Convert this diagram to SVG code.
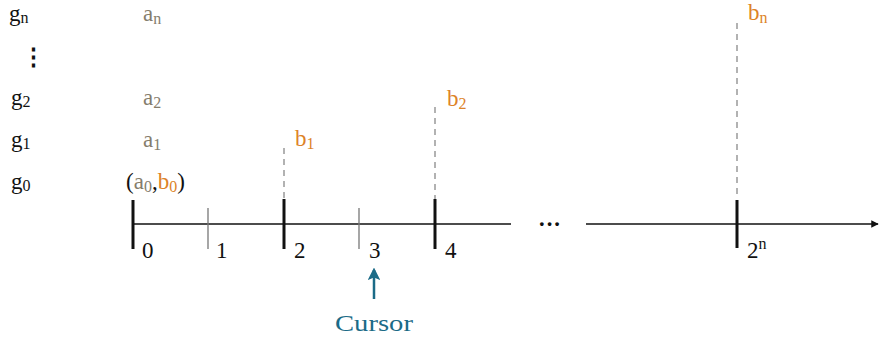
<svg xmlns="http://www.w3.org/2000/svg" width="879" height="338" viewBox="0 0 879 338">
<defs>
<style>
text{font-family:"Liberation Serif","DejaVu Serif",serif;font-size:23px;fill:#111}
.a{fill:#857d6c}
.b{fill:#dd8328}
.sub{font-size:16px}
.axis{stroke:#111;stroke-width:1.5;fill:none}
.major{stroke:#111;stroke-width:3}
.minor{stroke:#777;stroke-width:1.3}
.dash{stroke:#999;stroke-width:1.5;stroke-dasharray:6 5}
.cur{fill:#1b6b87}
</style>
<marker id="ah" viewBox="0 0 10 10" refX="9" refY="5" markerWidth="5" markerHeight="5" orient="auto"><path d="M0,0 L10,5 L0,10 z" fill="#111"/></marker>
<marker id="ch" viewBox="0 0 10 10" refX="8" refY="5" markerWidth="5" markerHeight="5" orient="auto"><path d="M0,0 L10,5 L0,10 L2,5 z" fill="#1b6b87"/></marker>
</defs>
<g id="levels">
<text x="9" y="21">g<tspan class="sub" dy="2">n</tspan></text>
<text x="22" y="64" font-weight="bold">⋮</text>
<text x="11" y="105">g<tspan class="sub" dy="2">2</tspan></text>
<text x="11" y="147">g<tspan class="sub" dy="2">1</tspan></text>
<text x="11" y="189">g<tspan class="sub" dy="2">0</tspan></text>
</g>
<g id="a-values">
<text class="a" x="143" y="21">a<tspan class="sub" dy="3">n</tspan></text>
<text class="a" x="143" y="105">a<tspan class="sub" dy="3">2</tspan></text>
<text class="a" x="143" y="147">a<tspan class="sub" dy="3">1</tspan></text>
<text x="126" y="189">(<tspan class="a">a</tspan><tspan class="a sub" dy="3">0</tspan><tspan dy="-3">,</tspan><tspan class="b">b</tspan><tspan class="b sub" dy="3">0</tspan><tspan dy="-3">)</tspan></text>
</g>
<g id="b-values">
<text class="b" x="295" y="146">b<tspan class="sub" dy="3">1</tspan></text>
<text class="b" x="447" y="106">b<tspan class="sub" dy="3">2</tspan></text>
<text class="b" x="748" y="20">b<tspan class="sub" dy="3">n</tspan></text>
</g>
<g id="connectors">
<line class="axis" x1="133" y1="224" x2="511" y2="224"/>
<line class="axis" x1="586" y1="224" x2="878" y2="224" marker-end="url(#ah)"/>
<line class="dash" x1="284" y1="148" x2="284" y2="199"/>
<line class="dash" x1="435" y1="107" x2="435" y2="199"/>
<line class="dash" x1="737" y1="23" x2="737" y2="199"/>
<line x1="374" y1="299" x2="374" y2="270" stroke="#1b6b87" stroke-width="2.5" marker-end="url(#ch)"/>
</g>
<g id="ticks">
<line class="major" x1="133" y1="200" x2="133" y2="249"/>
<line class="minor" x1="208" y1="208" x2="208" y2="249"/>
<line class="major" x1="284" y1="199" x2="284" y2="249"/>
<line class="minor" x1="359" y1="208" x2="359" y2="249"/>
<line class="major" x1="435" y1="199" x2="435" y2="249"/>
<line class="major" x1="737" y1="200" x2="737" y2="248"/>
</g>
<g id="labels">
<text x="142" y="258">0</text>
<text x="216" y="258">1</text>
<text x="294" y="258">2</text>
<text x="369" y="258">3</text>
<text x="445" y="258">4</text>
<text x="747" y="258">2<tspan class="sub" dy="-9">n</tspan></text>
<text x="538" y="232" font-size="20" font-weight="bold">···</text>
</g>
<g id="cursor">
<text class="cur" x="335" y="331" font-size="28" textLength="78" lengthAdjust="spacingAndGlyphs">Cursor</text>
</g>
</svg>
